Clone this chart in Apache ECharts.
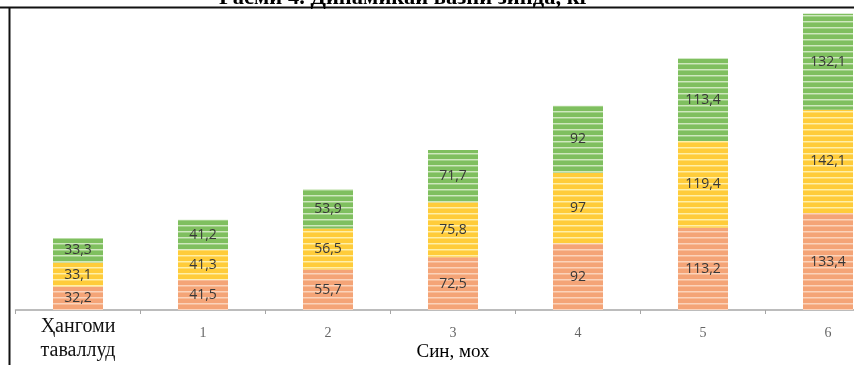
<!DOCTYPE html>
<html>
<head>
<meta charset="utf-8">
<script src="https://cdn.jsdelivr.net/npm/echarts@6/dist/echarts.min.js"></script>
<style>
  html, body { margin: 0; padding: 0; background: #fff; }
  #chart { width: 854px; height: 365px; }
</style>
</head>
<body>
<div id="chart"></div>
<script>
// Live weight by age, kg — three stacked groups per age step
const categories = ['Ҳангоми\nтаваллуд', '1', '2', '3', '4', '5', '6'];
const seriesOrange = [32.2, 41.5, 55.7, 72.5, 92, 113.2, 133.4];
const seriesYellow = [33.1, 41.3, 56.5, 75.8, 97, 119.4, 142.1];
const seriesGreen  = [33.3, 41.2, 53.9, 71.7, 92, 113.4, 132.1];
const titleText = 'Расми 4. Динамикаи вазни зинда, кг';
const axisTitle = 'Син, мох';

// Horizontal striped fill used for the bar segments
function stripes(base, light, mid) {
  const c = document.createElement('canvas');
  c.width = 4; c.height = 6;
  const g = c.getContext('2d');
  g.fillStyle = base; g.fillRect(0, 0, 4, 6);
  g.fillStyle = light; g.fillRect(0, 3, 4, 1);
  g.fillStyle = mid; g.fillRect(0, 4, 4, 1);
  return { image: c, repeat: 'repeat' };
}

const serif = '"Liberation Serif", "DejaVu Serif", serif';
const labelStyle = {
  show: true,
  position: 'inside',
  color: '#383838',
  fontSize: 14,
  fontFamily: '"Open Sans", "Liberation Sans", sans-serif',
  formatter: p => String(p.value).replace('.', ',')
};

function seg(name, data, fill) {
  return {
    name, type: 'bar', stack: 'w', data,
    barWidth: 50,
    itemStyle: { color: fill },
    label: labelStyle
  };
}

const chart = echarts.init(document.getElementById('chart'));
chart.setOption({
  animation: false,
  backgroundColor: '#fff',
  title: {
    text: titleText,
    left: 214, top: -18,
    textStyle: { fontFamily: serif, fontWeight: 'bold', fontSize: 22.5, color: '#000' }
  },
  grid: { left: 15.5, right: -36.5, top: 12, bottom: 55, containLabel: false, outerBoundsMode: 'none' },
  xAxis: {
    type: 'category',
    data: categories,
    name: axisTitle,
    nameLocation: 'middle',
    nameGap: 33,
    nameMoveOverlap: false,
    nameTextStyle: { fontFamily: serif, fontSize: 19, color: '#000' },
    axisLine: { lineStyle: { color: '#a6a6a6', width: 1.5 } },
    axisTick: { show: true, length: 4, lineStyle: { color: '#a6a6a6' } },
    axisLabel: {
      margin: 5,
      interval: 0,
      formatter: (v, i) => i === 0 ? '{a|' + v.split('\n').join('}\n{a|') + '}' : '{b|' + v + '}',
      rich: {
        a: { fontFamily: serif, fontSize: 20, lineHeight: 24, color: '#111' },
        b: { fontFamily: serif, fontSize: 14, lineHeight: 36, color: '#666' }
      }
    }
  },
  yAxis: { type: 'value', min: 0, max: 410, show: false, splitLine: { show: false } },
  series: [
    seg('orange', seriesOrange, stripes('#f4a477', '#fbd3bb', '#f8bc98')),
    seg('yellow', seriesYellow, stripes('#ffcc3a', '#fff0a8', '#ffdc6e')),
    seg('green', seriesGreen, stripes('#7fbf5f', '#cfe8bf', '#a3d28a'))
  ],
  graphic: [
    { type: 'line', shape: { x1: 0, y1: 7.5, x2: 854, y2: 7.5 }, style: { stroke: '#111', lineWidth: 2 } },
    { type: 'line', shape: { x1: 9.5, y1: 7.5, x2: 9.5, y2: 365 }, style: { stroke: '#111', lineWidth: 2 } }
  ]
});
</script>
</body>
</html>
